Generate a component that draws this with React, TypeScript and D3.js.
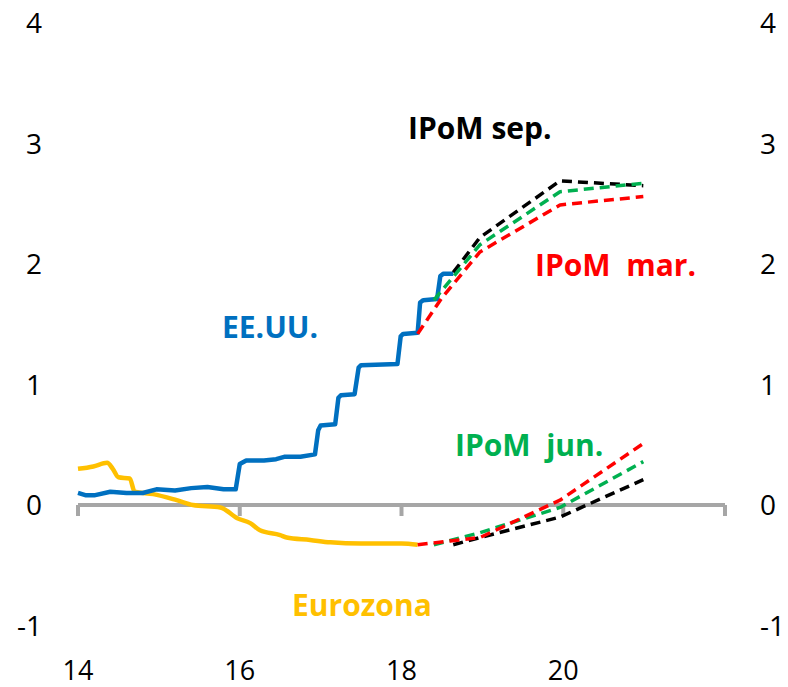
import React from "react";
import * as d3 from "d3";

type P = [number, number];

const yTicks = [-1, 0, 1, 2, 3, 4];
const xTicks = [14, 16, 18, 20, 22];
const xTickLabels = ["14", "16", "18", "20"];

const usa: P[] = [
  [14.0, 0.1], [14.1, 0.08], [14.2, 0.08], [14.4, 0.11], [14.6, 0.1], [14.8, 0.1],
  [14.97, 0.13], [15.2, 0.12], [15.4, 0.14], [15.6, 0.15], [15.8, 0.13], [15.95, 0.13],
  [16.0, 0.34], [16.08, 0.37], [16.3, 0.37], [16.45, 0.38], [16.55, 0.4], [16.75, 0.4],
  [16.93, 0.42], [16.97, 0.62], [17.0, 0.66], [17.18, 0.67], [17.22, 0.89], [17.25, 0.91],
  [17.42, 0.92], [17.47, 1.14], [17.5, 1.16], [17.95, 1.17], [17.99, 1.4], [18.02, 1.42],
  [18.2, 1.43], [18.23, 1.68], [18.27, 1.7], [18.44, 1.71], [18.48, 1.9], [18.52, 1.92],
  [18.64, 1.92],
];

const euro: P[] = [
  [14.0, 0.3], [14.19, 0.32], [14.36, 0.35], [14.43, 0.3], [14.5, 0.23], [14.64, 0.22],
  [14.7, 0.11], [14.93, 0.09], [15.22, 0.04], [15.42, 0.0], [15.76, -0.02], [15.97, -0.11],
  [16.13, -0.15], [16.25, -0.21], [16.5, -0.25], [16.58, -0.27], [16.87, -0.29],
  [17.12, -0.31], [17.5, -0.32], [18.0, -0.32], [18.2, -0.33],
];

const marUsa: P[] = [[18.2, 1.42], [18.5, 1.72], [18.97, 2.1], [19.96, 2.49], [20.99, 2.56]];
const junUsa: P[] = [[18.4, 1.7], [18.97, 2.16], [19.96, 2.6], [20.99, 2.67]];
const sepUsa: P[] = [[18.64, 1.93], [18.97, 2.22], [19.96, 2.69], [20.99, 2.65]];

const marEuro: P[] = [[18.2, -0.33], [18.97, -0.27], [19.96, 0.04], [20.99, 0.51]];
const junEuro: P[] = [[18.4, -0.33], [18.97, -0.23], [19.96, -0.02], [20.99, 0.36]];
const sepEuro: P[] = [[18.64, -0.33], [18.97, -0.27], [19.96, -0.1], [20.99, 0.21]];

const FONT = "'Open Sans', 'Liberation Sans', sans-serif";

export default function App() {
  const x = d3.scaleLinear().domain([14, 22]).range([78, 725]);
  const y = d3.scaleLinear().domain([-1, 4]).range([625.5, 23]);
  const line = d3.line<P>().x((d) => x(d[0])).y((d) => y(d[1]));
  const smooth = d3.line<P>().x((d) => x(d[0])).y((d) => y(d[1])).curve(d3.curveMonotoneX);

  const dashed = (data: P[], color: string, key: string) => (
    <path key={key} d={line(data) || ""} fill="none" stroke={color} strokeWidth={3.5}
      strokeDasharray="10 6" strokeLinejoin="round" />
  );

  return (
    <svg width={788} height={687} style={{ position: "absolute", left: 0, top: 0, background: "#fff" }}
      fontFamily={FONT}>
      {/* axis */}
      <line x1={x(14)} x2={x(22)} y1={y(0)} y2={y(0)} stroke="#A6A6A6" strokeWidth={4} />
      {xTicks.map((t) => (
        <line key={t} x1={x(t)} x2={x(t)} y1={y(0)} y2={y(0) + 11} stroke="#A6A6A6" strokeWidth={4} />
      ))}
      {yTicks.map((t) => (
        <g key={t}>
          <text x={42} y={y(t) + 10} textAnchor="end" fontSize={28} fill="#000">{t}</text>
          <text x={760} y={y(t) + 10} textAnchor="start" fontSize={28} fill="#000">{t}</text>
        </g>
      ))}
      {xTickLabels.map((t) => (
        <text key={t} x={x(+t)} y={680} textAnchor="middle" fontSize={27} fill="#000">{t}</text>
      ))}

      {/* solid lines */}
      <path d={smooth(euro) || ""} fill="none" stroke="#FFC000" strokeWidth={4.5} strokeLinejoin="round" />
      <path d={line(usa) || ""} fill="none" stroke="#0070C0" strokeWidth={4.5} strokeLinejoin="round" />

      {dashed(sepUsa, "#000000", "s1")}
      {dashed(sepEuro, "#000000", "s2")}
      {dashed(junUsa, "#00B050", "j1")}
      {dashed(junEuro, "#00B050", "j2")}
      {dashed(marUsa, "#FF0000", "m1")}
      {dashed(marEuro, "#FF0000", "m2")}

      {/* labels */}
      <text x={408} y={139} fontSize={30} fontWeight="bold" fill="#000">IPoM sep.</text>
      <text x={535} y={276} fontSize={30} fontWeight="bold" fill="#FF0000" style={{ whiteSpace: "pre" }}>IPoM  mar.</text>
      <text x={222} y={338} fontSize={30} fontWeight="bold" fill="#0070C0">EE.UU.</text>
      <text x={455} y={456} fontSize={30} fontWeight="bold" fill="#00B050" style={{ whiteSpace: "pre" }}>IPoM  jun.</text>
      <text x={292} y={616} fontSize={30} fontWeight="bold" fill="#FFC000">Eurozona</text>
    </svg>
  );
}
